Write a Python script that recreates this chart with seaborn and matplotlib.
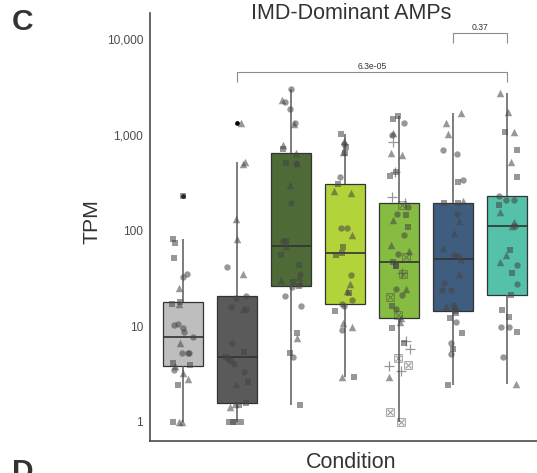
"""IMD-Dominant AMPs: TPM per condition, box + jittered points on a log axis."""

import matplotlib

matplotlib.use("Agg")
import matplotlib.pyplot as plt
import numpy as np
import pandas as pd
import seaborn as sns
from matplotlib.ticker import FixedLocator, FuncFormatter, NullLocator

CONDITIONS = ["cond1", "cond2", "cond3", "cond4", "cond5", "cond6", "cond7"]
BOX_COLORS = ["#BEBEBE", "#5A5A5A", "#4E6B37", "#B3D33B", "#86BC41", "#3F5E7F", "#55C1A9"]

# TPM values per condition, with point shape codes
# c = circle, t = triangle, s = square, p = plus, x = boxed cross
TPM_1 = [1, 1, 1, 2.43, 2.81, 3.27, 3.5, 3.84, 3.94, 4.1, 5.2, 5.2, 5.2, 6.64, 7.7,
         8.77, 9.5, 10.3, 10.5, 17, 17, 17.9, 25.3, 32.5, 34.9, 51.2, 74.6, 81.5, 229]
SHAPES_1 = "ttssttctss" + "ccctccccct" + "sstccssss"

TPM_2 = [1, 1, 1, 1, 1.45, 1.5, 1.55, 1.58, 2.49, 2.64, 3.3, 4.0, 4.37, 4.6, 4.77,
         5.35, 6.73, 15.1, 15.1, 15.8, 19.5, 20.7, 35.1, 41.9, 80.9, 132, 491, 520, 1318]
SHAPES_2 = "sssststs" + "tsccscssc" + "ctccc" + "tcttttt"

TPM_3 = [1.5, 4.74, 5.22, 7.48, 8.44, 16.3, 20.5, 25.9, 26.4,
         28.1, 29.2, 30.4, 32.9, 35, 43.6, 55.5, 68.9,
         77.6, 77.6, 195, 300, 513, 513, 513, 646,
         705, 782, 1285, 1336, 1845, 2213, 2307, 2985]
SHAPES_3 = "scstscccs" + "tsttcsst" + "sccttsct" + "sttccctc"

TPM_4 = [2.95, 2.97, 9.14, 9.9, 10.7, 14.4, 16.4, 17.1, 18.8, 22.4, 23.5, 27.4, 34.3,
         55.5, 58, 67.8, 89.8, 105, 105, 248, 261, 306, 365, 640, 655, 750, 800, 866, 1018]
SHAPES_4 = "tscttscc" + "csttcss" + "stcctts" + "cstscts"

TPM_5 = [1.0, 1.28, 2.97, 3.41, 3.84, 3.94, 4.63, 5.75, 6.64, 7.0, 9.5, 11.2, 12.2,
         13.1, 15.1, 16.3, 20.4, 21.2, 24.3, 24.3, 34.9, 36.3, 42.6, 42.6, 46.9,
         52.5, 56.9, 61.5, 70.6, 90, 110, 130, 145, 149, 177, 185, 194,
         222, 373, 411, 411, 615, 650, 832, 1000, 1050, 1335, 1450, 1570]
SHAPES_5 = "xxtppxxpspst" + "t" + "xcsxcctxpss" + "s" + "xcttcstsccx" + "p" + "pspsttpctcss"

TPM_6 = [2.43, 5.13, 5.75, 6.64, 8.44, 11, 12.1, 13.6, 14.4,
         16.3, 16.3, 16.7, 23.9, 23.9, 28.1, 35, 50.3,
         54, 55.5, 65.2, 93.6, 126, 150, 194, 194,
         203, 323, 337, 630, 693, 1018, 1318, 1675]
SHAPES_6 = "scscscss" + "s" + "ttcccct" + "t" + "cctttcs" + "s" + "tscccttt"

TPM_7 = [2.49, 4.81, 8.65, 9.9, 9.9, 12.6, 14.8, 21.2,
         27.6, 35.7, 43.6, 47.2, 55.5, 62.5, 111,
         111, 124, 155, 185, 208, 208, 229,
         365, 523, 693, 1061, 1061, 1716, 2710]
SHAPES_7 = "tcsccss" + "s" + "csctts" + "c" + "tttscc" + "c" + "stststt"

# significance brackets: condition index pairs, p-value labels, bracket heights
BRACKET_PAIRS = [(1, 6), (5, 6)]
BRACKET_LABELS = ["6.3e-05", "0.37"]
BRACKET_TOP = [4520, 11560]
BRACKET_TIP = [3560, 9090]

MARKERS = {"c": "o", "t": "^", "s": "s", "p": "+", "x": r"$\boxtimes$"}
MARKER_SIZES = {"c": 4.6, "t": 5.4, "s": 4.3, "p": 6.8, "x": 6.2}
POINT_COLOR = "#444444"
POINT_ALPHA = 0.55
INK = "#333333"
AXIS_GREY = "#4d4d4d"


def build_frame() -> pd.DataFrame:
    values = [TPM_1, TPM_2, TPM_3, TPM_4, TPM_5, TPM_6, TPM_7]
    shapes = [SHAPES_1, SHAPES_2, SHAPES_3, SHAPES_4, SHAPES_5, SHAPES_6, SHAPES_7]
    rows = []
    for cond, tpm, shp in zip(CONDITIONS, values, shapes):
        assert len(tpm) == len(shp), cond
        for v, s in zip(tpm, shp):
            rows.append({"condition": cond, "tpm": v, "shape": s})
    return pd.DataFrame(rows)


def main() -> None:
    sns.set_theme(style="white")
    plt.rcParams["font.family"] = ["Liberation Sans", "DejaVu Sans"]

    df = build_frame()
    np.random.seed(7)

    fig = plt.figure(figsize=(5.37, 4.73), dpi=100)
    ax = fig.add_axes([150 / 537, 32 / 473, 389.4 / 537, 428 / 473])

    sns.boxplot(
        data=df, x="condition", y="tpm", order=CONDITIONS,
        hue="condition", hue_order=CONDITIONS, palette=BOX_COLORS, legend=False,
        saturation=1, width=0.75, linewidth=0.9, linecolor=INK,
        log_scale=True, whis=1.5, fliersize=2.4, showcaps=False,
        whiskerprops={"color": "#5a5a5a", "linewidth": 1.1},
        medianprops={"color": INK, "linewidth": 1.2},
        flierprops={"marker": "o", "markerfacecolor": "black",
                    "markeredgecolor": "black", "markersize": 2.4},
        ax=ax,
    )

    for code, marker in MARKERS.items():
        sub = df[df["shape"] == code]
        if sub.empty:
            continue
        n_before = len(ax.collections)
        sns.stripplot(
            data=sub, x="condition", y="tpm", order=CONDITIONS,
            marker=marker, size=MARKER_SIZES[code], color=POINT_COLOR,
            alpha=POINT_ALPHA, jitter=0.2, linewidth=0, ax=ax,
        )
        for coll in ax.collections[n_before:]:
            if code == "p":
                coll.set_edgecolor(POINT_COLOR)
                coll.set_linewidth(0.9)
            coll.set_alpha(POINT_ALPHA)

    # significance brackets
    for (i, j), label, top, tip in zip(BRACKET_PAIRS, BRACKET_LABELS, BRACKET_TOP, BRACKET_TIP):
        ax.plot([i, i, j, j], [tip, top, top, tip], color="#8c8c8c", linewidth=0.8,
                solid_capstyle="butt", clip_on=False)
        ax.text((i + j) / 2, top * 1.075, label, ha="center", va="baseline",
                fontsize=6.2, color=INK)

    ax.set_xlim(-0.61, 6.6)
    ax.set_ylim(0.633, 18700)
    ax.yaxis.set_major_locator(FixedLocator([1, 10, 100, 1000, 10000]))
    ax.yaxis.set_minor_locator(NullLocator())
    ax.yaxis.set_major_formatter(FuncFormatter(lambda v, _: f"{int(round(v)):,}"))
    ax.tick_params(axis="both", length=3, width=0.8, color=AXIS_GREY,
                   labelsize=8.6, labelcolor=AXIS_GREY, pad=2)
    ax.tick_params(axis="x", labelbottom=False)
    ax.set_xlabel("")
    ax.set_ylabel("")

    for side in ("top", "right"):
        ax.spines[side].set_visible(False)
    for side in ("left", "bottom"):
        ax.spines[side].set_color(AXIS_GREY)
        ax.spines[side].set_linewidth(1.2)

    fig.text(351 / 537, 1 - 19 / 473, "IMD-Dominant AMPs", ha="center", va="baseline",
             fontsize=15.5, color=INK)
    fig.text(351 / 537, 1 - 467.5 / 473, "Condition", ha="center", va="baseline",
             fontsize=15.5, color=INK)
    fig.text(97 / 537, 1 - 222 / 473, "TPM", rotation=90, rotation_mode="anchor",
             ha="center", va="baseline", fontsize=15.3, color=INK)
    fig.text(12 / 537, 1 - 30 / 473, "C", ha="left", va="baseline",
             fontsize=21.5, fontweight="bold", color=INK)
    # panel letter of the next panel, cut by the bottom edge as in the source figure
    fig.text(12 / 537, 1 - 480 / 473, "D", ha="left", va="baseline",
             fontsize=21.5, fontweight="bold", color=INK)

    fig.savefig("out.png", dpi=100)
    plt.close(fig)


if __name__ == "__main__":
    main()
